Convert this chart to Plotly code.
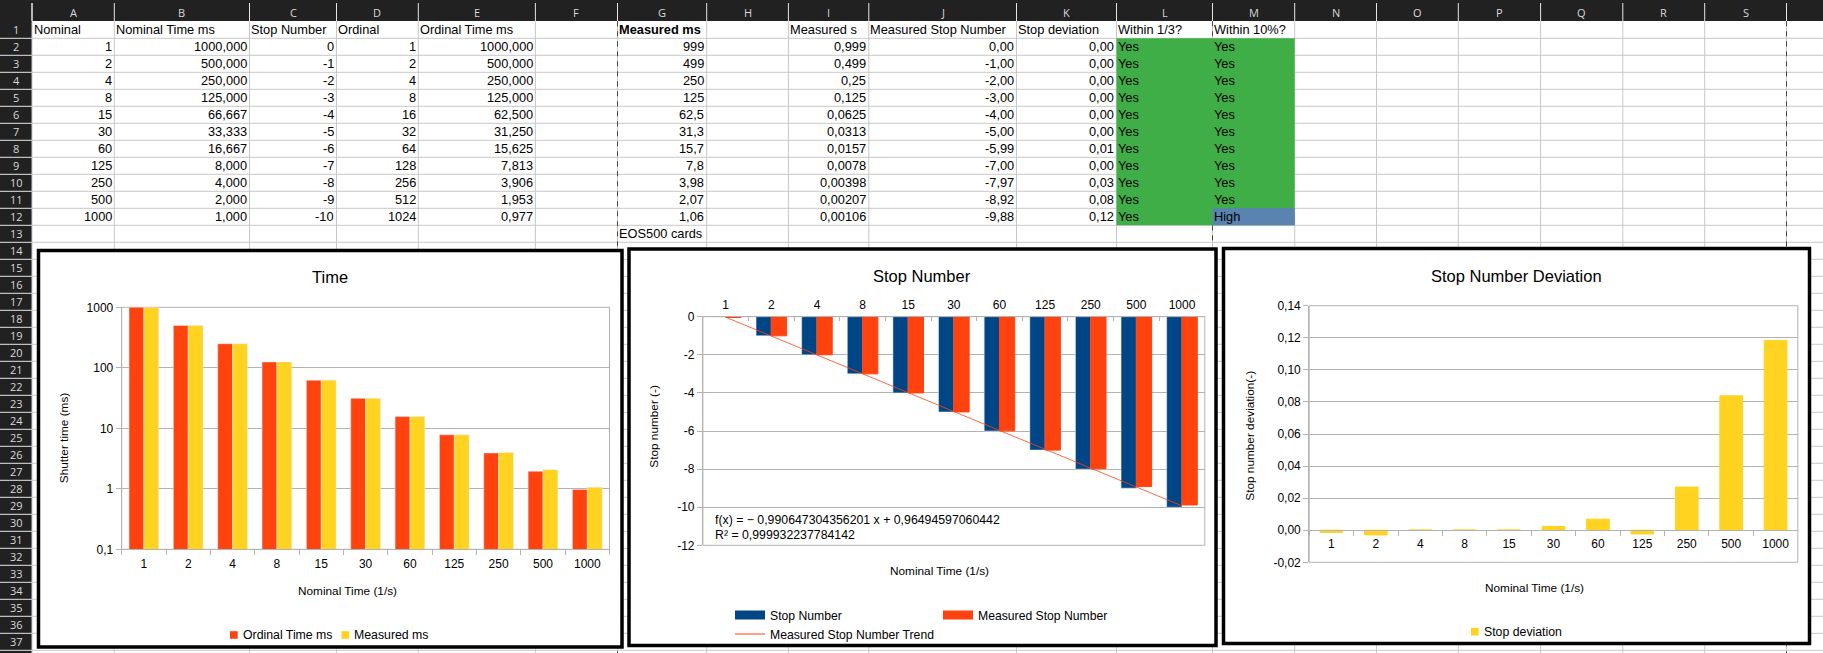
import plotly.graph_objects as go

W, H = 1823, 653

# ---------- data ----------
categories = ["1", "2", "4", "8", "15", "30", "60", "125", "250", "500", "1000"]
ordinal_time_ms = [1000, 500, 250, 125, 62.5, 31.25, 15.625, 7.813, 3.906, 1.953, 0.977]
measured_ms = [999, 499, 250, 125, 62.5, 31.3, 15.7, 7.8, 3.98, 2.07, 1.06]
stop_number = [0, -1, -2, -3, -4, -5, -6, -7, -8, -9, -10]
measured_stop = [-0.04, -1.003, -2, -3, -4, -4.998, -5.993, -7.002, -7.973, -8.916, -9.882]
stop_deviation = [-0.0014, -0.0029, 0.0002, 0.0002, 0.0002, 0.0023, 0.0069, -0.0023, 0.0269, 0.0838, 0.1183]
trend_categories = ["1", "1000"]
trend_values = [-0.026, -9.932]

col_letters = list("ABCDEFGHIJKLMNOPQRS")
col_edges = [32, 114.3, 249.5, 336.5, 418.3, 535.4, 617.5, 706.7, 788.4, 868.8, 1016.5, 1116.5,
             1212.5, 1294.7, 1376.5, 1458.3, 1540.6, 1622.8, 1704.7, 1786.5]
header_cells = ["Nominal", "Nominal Time ms", "Stop Number", "Ordinal", "Ordinal Time ms", "",
                "<b>Measured ms</b>", "", "Measured s", "Measured Stop Number", "Stop deviation",
                "Within 1/3?", "Within 10%?"]
col_a = ["1", "2", "4", "8", "15", "30", "60", "125", "250", "500", "1000"]
col_b = ["1000,000", "500,000", "250,000", "125,000", "66,667", "33,333", "16,667", "8,000", "4,000", "2,000", "1,000"]
col_c = ["0", "-1", "-2", "-3", "-4", "-5", "-6", "-7", "-8", "-9", "-10"]
col_d = ["1", "2", "4", "8", "16", "32", "64", "128", "256", "512", "1024"]
col_e = ["1000,000", "500,000", "250,000", "125,000", "62,500", "31,250", "15,625", "7,813", "3,906", "1,953", "0,977"]
col_g = ["999", "499", "250", "125", "62,5", "31,3", "15,7", "7,8", "3,98", "2,07", "1,06"]
col_i = ["0,999", "0,499", "0,25", "0,125", "0,0625", "0,0313", "0,0157", "0,0078", "0,00398", "0,00207", "0,00106"]
col_j = ["0,00", "-1,00", "-2,00", "-3,00", "-4,00", "-5,00", "-5,99", "-7,00", "-7,97", "-8,92", "-9,88"]
col_k = ["0,00", "0,00", "0,00", "0,00", "0,00", "0,00", "0,01", "0,00", "0,03", "0,08", "0,12"]
col_l = ["Yes"] * 11
col_m = ["Yes"] * 10 + ["High"]

y1_ticks, y1_text = [0.1, 1, 10, 100, 1000], ["0,1", "1", "10", "100", "1000"]
y2_ticks, y2_text = [0, -2, -4, -6, -8, -10, -12], ["0", "-2", "-4", "-6", "-8", "-10", "-12"]
y3_ticks = [-0.02, 0, 0.02, 0.04, 0.06, 0.08, 0.10, 0.12, 0.14]
y3_text = ["-0,02", "0,00", "0,02", "0,04", "0,06", "0,08", "0,10", "0,12", "0,14"]

# ---------- style ----------
BLUE, ORANGE, YELLOW = "#004586", "#ff420e", "#ffd320"
AXIS = "#b3b3b3"
GRID = "#c8c8c8"
DARK = "#212121"
FONT = "Liberation Sans"
HFONT = "Open Sans"
CELL = 12.8
ROW0, ROWH = 21.3, 17.0
PAD = 0.5


def px(x):
    return x / W


def py(y):
    return 1 - y / H


shapes, ann = [], []


def rect(x0, y0, x1, y1, fill, line=None, lw=0):
    shapes.append(dict(type="rect", xref="paper", yref="paper", x0=px(x0), x1=px(x1), y0=py(y0), y1=py(y1),
                       fillcolor=fill, line=dict(color=line or fill, width=lw), layer="below"))


def seg(x0, y0, x1, y1, color, lw=1, dash="solid"):
    shapes.append(dict(type="line", xref="paper", yref="paper", x0=px(x0), x1=px(x1), y0=py(y0), y1=py(y1),
                       line=dict(color=color, width=lw, dash=dash), layer="below"))


def text(x, y, s, size=CELL, anchor="left", color="black", angle=0, family=FONT):
    ann.append(dict(xref="paper", yref="paper", x=px(x), y=py(y), text=s, showarrow=False, xanchor=anchor,
                    yanchor="middle", textangle=angle, borderpad=0,
                    font=dict(family=family, size=size, color=color)))


# ---------- spreadsheet ----------
rect(0, 0, W, 21, DARK)
rect(0, 0, 32, H, DARK)

for r in range(1, 38):
    y = ROW0 + r * ROWH
    seg(32, y, W, y, GRID)
    seg(0, y, 32, y, "#e6e6e6")
for e in col_edges:
    seg(e, ROW0, e, H, GRID)
    seg(e, 3, e, 21, "#e6e6e6")
seg(32, 3, 32, 21, "#e6e6e6")
for x in (617.5, 1786.5):
    seg(x, ROW0, x, H, "#444444", 1, "5px,5px")
seg(1212.5, ROW0, 1212.5, ROW0 + ROWH, "#444444", 1, "5px,5px")
seg(1212.5, ROW0 + 12 * ROWH, 1212.5, ROW0 + 13 * ROWH, "#444444", 1, "5px,5px")

rect(col_edges[11], ROW0 + ROWH, col_edges[13], ROW0 + 12 * ROWH, "#3fae47")
rect(col_edges[12], ROW0 + 11 * ROWH, col_edges[13], ROW0 + 12 * ROWH, "#5a83b2")

for i, letter in enumerate(col_letters):
    text((col_edges[i] + col_edges[i + 1]) / 2, 12.3, letter, 11, "center", "#d8d8d8", family=HFONT)
for r in range(37):
    text(16, ROW0 + ROWH * (r + 0.5), str(r + 1), 11, "center", "#d8d8d8", family=HFONT)

for i, s in enumerate(header_cells):
    if s:
        text(col_edges[i] + PAD, ROW0 + ROWH / 2, s)

right_cols = {0: col_a, 1: col_b, 2: col_c, 3: col_d, 4: col_e, 6: col_g, 8: col_i, 9: col_j, 10: col_k}
for c, values in right_cols.items():
    for r, s in enumerate(values):
        text(col_edges[c + 1] - 1.5, ROW0 + ROWH * (r + 1.5), s, anchor="right")
for c, values in {11: col_l, 12: col_m}.items():
    for r, s in enumerate(values):
        text(col_edges[c] + PAD, ROW0 + ROWH * (r + 1.5), s)
text(col_edges[6] + PAD, ROW0 + ROWH * 12.5, "EOS500 cards")

# ---------- chart frames ----------
for x0, y0, x1, y1 in [(38.5, 250.5, 622, 647), (629, 249, 1216, 645.5), (1223.5, 248.5, 1809.5, 643.5)]:
    rect(x0, y0, x1, y1, "white", "black", 3.5)

# plot-area boxes in pixels (left, top, right, bottom)
B1 = (121.7, 307.3, 609.5, 549.3)
B2 = (702.9, 316.7, 1204.8, 545.3)
B3 = (1309.2, 305.7, 1797.8, 562.3)
ZERO3 = 530.0

fig = go.Figure()
fig.add_trace(go.Bar(x=categories, y=ordinal_time_ms, name="Ordinal Time ms", marker_color=ORANGE,
                     xaxis="x", yaxis="y", showlegend=False))
fig.add_trace(go.Bar(x=categories, y=measured_ms, name="Measured ms", marker_color=YELLOW,
                     xaxis="x", yaxis="y", showlegend=False))
fig.add_trace(go.Bar(x=categories, y=stop_number, name="Stop Number", marker_color=BLUE,
                     xaxis="x2", yaxis="y2", showlegend=False))
fig.add_trace(go.Bar(x=categories, y=measured_stop, name="Measured Stop Number", marker_color=ORANGE,
                     marker_line=dict(color=ORANGE, width=1), xaxis="x2", yaxis="y2", showlegend=False))
fig.add_trace(go.Scatter(x=trend_categories, y=trend_values, mode="lines", name="Measured Stop Number Trend",
                         line=dict(color=ORANGE, width=0.8), xaxis="x2", yaxis="y2", showlegend=False))
# legend entries for the middle chart (wide swatches)
fig.add_trace(go.Scatter(x=[None], y=[None], mode="lines", name="Stop Number", line=dict(color=BLUE, width=9),
                         xaxis="x2", yaxis="y2", legend="legend2"))
fig.add_trace(go.Scatter(x=[None], y=[None], mode="lines", name="Measured Stop Number",
                         line=dict(color=ORANGE, width=9), xaxis="x2", yaxis="y2", legend="legend2"))
fig.add_trace(go.Scatter(x=[None], y=[None], mode="lines", name="Measured Stop Number Trend",
                         line=dict(color=ORANGE, width=1), xaxis="x2", yaxis="y2", legend="legend3"))
fig.add_trace(go.Bar(x=categories, y=stop_deviation, name="Stop deviation", marker_color=YELLOW, width=0.51,
                     marker_line=dict(color=YELLOW, width=1), xaxis="x3", yaxis="y3", showlegend=False))

# chart titles, axis titles, trend equation
TITLE, AXT = 16.5, 11.8
text(329.5, 277, "Time", TITLE, "center")
text(922, 275.7, "Stop Number", TITLE, "center")
text(1516.7, 275.7, "Stop Number Deviation", TITLE, "center")
text(347.5, 590.7, "Nominal Time (1/s)", AXT, "center")
text(940, 570.7, "Nominal Time (1/s)", AXT, "center")
text(1534.5, 587.7, "Nominal Time (1/s)", AXT, "center")
text(63.5, 437.7, "Shutter time (ms)", AXT, "center", angle=-90)
text(654, 426.7, "Stop number (-)", AXT, "center", angle=-90)
text(1250, 435.7, "Stop number deviation(-)", AXT, "center", angle=-90)
text(714, 520, "f(x) = − 0,990647304356201 x + 0,96494597060442", 12.3)
text(714, 535, "R² = 0,999932237784142", 12.3)

# compact legends for the outer charts
for x0, y, color, label in [(230, 635, ORANGE, "Ordinal Time ms"), (341.5, 635, YELLOW, "Measured ms"),
                            (1471, 631.7, YELLOW, "Stop deviation")]:
    rect(x0, y - 3.8, x0 + 7.7, y + 3.8, color)
    text(x0 + 11.8, y, label, 12.3)


def box(xa, ya):
    shapes.append(dict(type="rect", xref=f"{xa} domain", yref=f"{ya} domain", x0=0, x1=1, y0=0, y1=1,
                       line=dict(color=AXIS, width=1), layer="below"))


box("x", "y"); box("x2", "y2"); box("x3", "y3")

tick_font = dict(family=FONT, size=12, color="black")


def xaxis(b, **kw):
    d = dict(type="category", categoryorder="array", categoryarray=categories, domain=[px(b[0]), px(b[2])],
             showgrid=False, showline=True, linecolor=AXIS, linewidth=1, tickson="boundaries",
             ticks="outside", ticklen=5, tickcolor=AXIS, tickfont=tick_font, zeroline=False)
    d.update(kw)
    return d


def yaxis(b, vals, txt, rng, **kw):
    d = dict(domain=[py(b[3]), py(b[1])], range=rng, tickvals=vals, ticktext=txt, showgrid=True, gridcolor=AXIS,
             gridwidth=1, showline=True, linecolor=AXIS, ticks="outside", ticklen=5, tickcolor=AXIS,
             tickfont=tick_font, zeroline=False)
    d.update(kw)
    return d


def legend(x, y, **kw):
    d = dict(x=px(x), y=py(y), xanchor="left", yanchor="middle", orientation="h", bgcolor="rgba(0,0,0,0)",
             font=dict(family=FONT, size=12.2, color="black"), tracegroupgap=0, borderwidth=0)
    d.update(kw)
    return d


fig.update_layout(
    width=W, height=H, margin=dict(l=0, r=0, t=0, b=0, pad=0, autoexpand=False), paper_bgcolor="white",
    plot_bgcolor="rgba(0,0,0,0)", barmode="group", bargap=0.33, bargroupgap=0, showlegend=True,
    font=dict(family=FONT), shapes=shapes, annotations=ann, hovermode=False,
    xaxis=xaxis(B1, anchor="y", ticklabelstandoff=3),
    yaxis=yaxis(B1, y1_ticks, y1_text, [-1, 3], type="log", anchor="x"),
    xaxis2=xaxis(B2, anchor="y2", side="top", ticks="inside", ticklen=4, ticklabelstandoff=2),
    yaxis2=yaxis(B2, y2_ticks, y2_text, [-12, 0], anchor="x2"),
    xaxis3=xaxis(B3, anchor="free", position=py(ZERO3), ticklabelstandoff=3),
    yaxis3=yaxis(B3, y3_ticks, y3_text, [-0.02, 0.14], anchor="x3"),
    legend2=legend(730, 615, entrywidth=163),
    legend3=legend(730, 634),
)

fig.write_html("out.html", config=dict(displayModeBar=False),
               post_script="document.body.style.margin='0';document.documentElement.style.overflow='hidden';")
